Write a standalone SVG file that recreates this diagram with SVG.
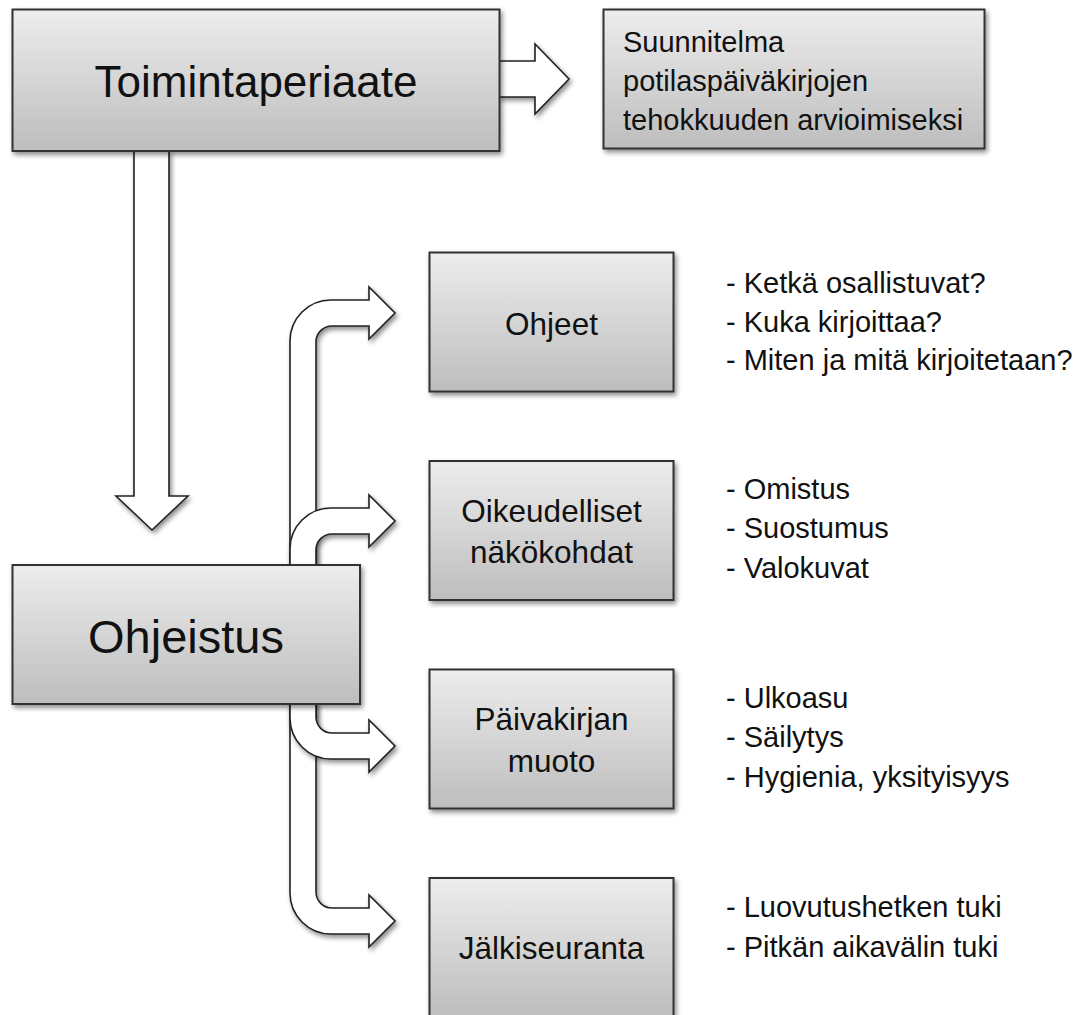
<svg xmlns="http://www.w3.org/2000/svg" width="1089" height="1015" viewBox="0 0 1089 1015">
  <defs>
    <linearGradient id="boxGrad" x1="0" y1="0" x2="0" y2="1">
      <stop offset="0" stop-color="#ededed"/>
      <stop offset="1" stop-color="#bdbdbd"/>
    </linearGradient>
    <filter id="shadow" x="-10%" y="-10%" width="130%" height="130%">
      <feGaussianBlur in="SourceAlpha" stdDeviation="2.5"/>
      <feOffset dx="2" dy="3" result="b"/>
      <feComponentTransfer><feFuncA type="linear" slope="0.45"/></feComponentTransfer>
      <feMerge><feMergeNode/><feMergeNode in="SourceGraphic"/></feMerge>
    </filter>
  </defs>
  <style>
    .box { fill: url(#boxGrad); stroke: #333; stroke-width: 2; filter: url(#shadow); }
    .arrow { fill: #fff; stroke: #222; stroke-width: 1.6; stroke-linejoin: miter; filter: url(#shadow); }
    text { font-family: "Liberation Sans", Arial, sans-serif; fill: #111; }
    .lbl { font-size: 31.5px; text-anchor: middle; }
    .big { text-anchor: middle; }
    .list { font-size: 29px; }
  </style>
  <rect width="1089" height="1015" fill="#fff"/>

  <g id="connectors">
    <path class="arrow" d="M499 61 L535 61 L535 44 L569 79 L535 114 L535 97 L499 97 Z"/>
    <path class="arrow" d="M134 151 L134 496 L116 496 L152 530 L188 496 L169 496 L169 151 Z"/>
    <path class="arrow" d="M290 566 L290 341 A41 41 0 0 1 331 300 L369 300 L369 287 L395 313 L369 339 L369 326 L332 326 A16 16 0 0 0 316 342 L316 566 Z"/>
    <path class="arrow" d="M290 566 L290 549 A41 41 0 0 1 331 508 L369 508 L369 495 L395 521 L369 547 L369 534 L332 534 A16 16 0 0 0 316 550 L316 566 Z"/>
    <path class="arrow" d="M316 702 L316 892 A16 16 0 0 0 332 908 L369 908 L369 895 L395 921 L369 947 L369 934 L331 934 A41 41 0 0 1 290 893 L290 702 Z"/>
    <path class="arrow" d="M316 702 L316 717 A16 16 0 0 0 332 733 L369 733 L369 720 L395 746 L369 772 L369 759 L331 759 A41 41 0 0 1 290 718 L290 702 Z"/>
  </g>

  <g id="toimintaperiaate">
    <rect class="box" x="12.5" y="9.5" width="487" height="141.5"/>
    <text class="big" x="256" y="97" font-size="44">Toimintaperiaate</text>
  </g>

  <g id="suunnitelma">
    <rect class="box" x="603.5" y="9.5" width="381" height="139"/>
    <text class="list" x="623" y="52">Suunnitelma</text>
    <text class="list" x="623" y="91">potilaspäiväkirjojen</text>
    <text class="list" x="623" y="130">tehokkuuden arvioimiseksi</text>
  </g>

  <g id="ohjeistus">
    <rect class="box" x="12.5" y="565" width="347.5" height="139"/>
    <text class="big" x="186" y="653" font-size="47">Ohjeistus</text>
  </g>

  <g id="ohjeet">
    <rect class="box" x="429.5" y="252.5" width="244" height="139"/>
    <text class="lbl" x="551.5" y="335">Ohjeet</text>
    <text class="list" x="726" y="293">- Ketkä osallistuvat?</text>
    <text class="list" x="726" y="332">- Kuka kirjoittaa?</text>
    <text class="list" x="726" y="370">- Miten ja mitä kirjoitetaan?</text>
  </g>

  <g id="oikeudelliset">
    <rect class="box" x="429.5" y="461" width="244" height="139"/>
    <text class="lbl" x="551.5" y="522">Oikeudelliset</text>
    <text class="lbl" x="551.5" y="563">näkökohdat</text>
    <text class="list" x="726" y="499">- Omistus</text>
    <text class="list" x="726" y="538">- Suostumus</text>
    <text class="list" x="726" y="578">- Valokuvat</text>
  </g>

  <g id="paivakirjan-muoto">
    <rect class="box" x="429.5" y="669.5" width="244" height="139"/>
    <text class="lbl" x="551.5" y="730">Päivakirjan</text>
    <text class="lbl" x="551.5" y="772">muoto</text>
    <text class="list" x="726" y="708">- Ulkoasu</text>
    <text class="list" x="726" y="747">- Säilytys</text>
    <text class="list" x="726" y="787">- Hygienia, yksityisyys</text>
  </g>

  <g id="jalkiseuranta">
    <rect class="box" x="429.5" y="878" width="244" height="139"/>
    <text class="lbl" x="551.5" y="959">Jälkiseuranta</text>
    <text class="list" x="726" y="917">- Luovutushetken tuki</text>
    <text class="list" x="726" y="957">- Pitkän aikavälin tuki</text>
  </g>
</svg>
